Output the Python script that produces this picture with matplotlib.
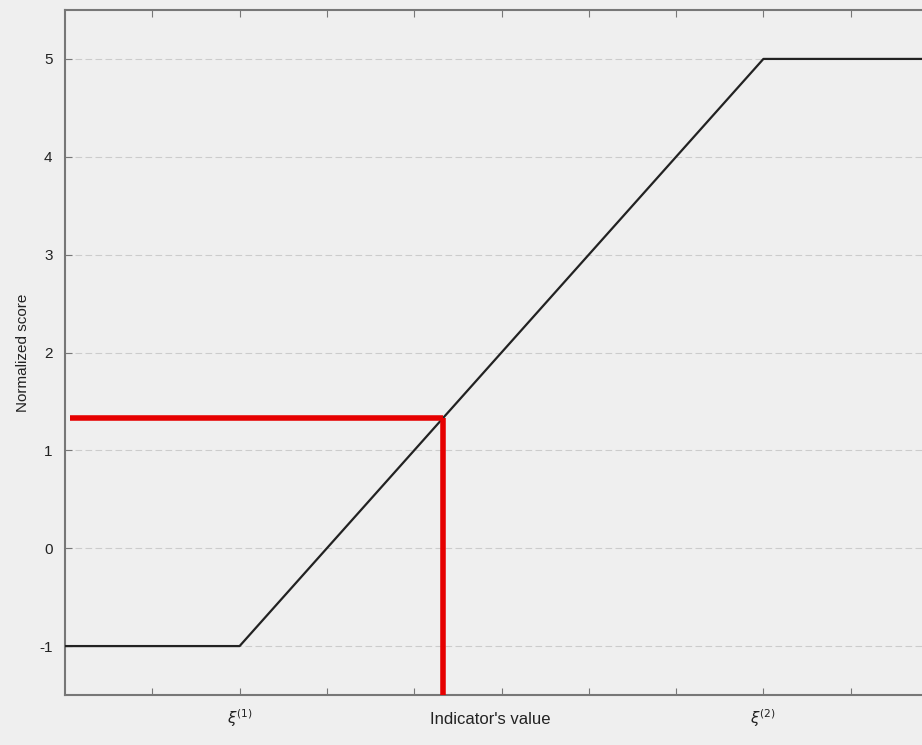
import matplotlib.pyplot as plt

# piecewise linear normalisation curve
curve_x = [0, 2, 8, 10]
curve_y = [-1, -1, 5, 5]

# indicator point shown in red
ind_x = 4.33
ind_y = 1.33

yticks = [-1, 0, 1, 2, 3, 4, 5]
xticks = [1, 2, 3, 4, 5, 6, 7, 8, 9]
xtick_labels = ['', r'$\xi^{(1)}$', '', '', '', '', '', r'$\xi^{(2)}$', '']

plt.rcParams['font.family'] = ['Liberation Sans', 'DejaVu Sans']
plt.rcParams['axes.unicode_minus'] = False
bg = '#efefef'

fig = plt.figure(figsize=(9.22, 7.45), dpi=100, facecolor=bg)
ax = fig.add_axes([65 / 922, 50 / 745, 873 / 922, 685 / 745], facecolor=bg)

ax.plot(curve_x, curve_y, color='#222222', lw=1.6, zorder=3)
ax.plot([0.06, ind_x], [ind_y, ind_y], color='#e60000', lw=4, solid_capstyle='butt', zorder=4)
ax.plot([ind_x, ind_x], [-1.5, ind_y], color='#e60000', lw=4, solid_capstyle='butt', zorder=4)

ax.set_xlim(0, 10)
ax.set_ylim(-1.5, 5.5)
ax.set_yticks(yticks)
ax.set_xticks(xticks)
ax.set_xticklabels(xtick_labels, fontsize=12, color='#222222')
ax.tick_params(direction='in', top=True, right=True, length=5, color='#777777',
               labelsize=11, labelcolor='#222222', pad=9)
ax.grid(axis='y', linestyle=(0, (6, 3)), color='#cccccc', lw=0.8)
for s in ax.spines.values():
    s.set_color('#777777')
    s.set_linewidth(1.5)

ax.text(4.87, -1.75, "Indicator's value", ha='center', va='center', fontsize=12, color='#222222')
ax.set_ylabel('Normalized score', fontsize=11, color='#222222')
ax.yaxis.set_label_coords(-35 / 873, 0.5)

fig.savefig('out.png', dpi=100, facecolor=bg)
